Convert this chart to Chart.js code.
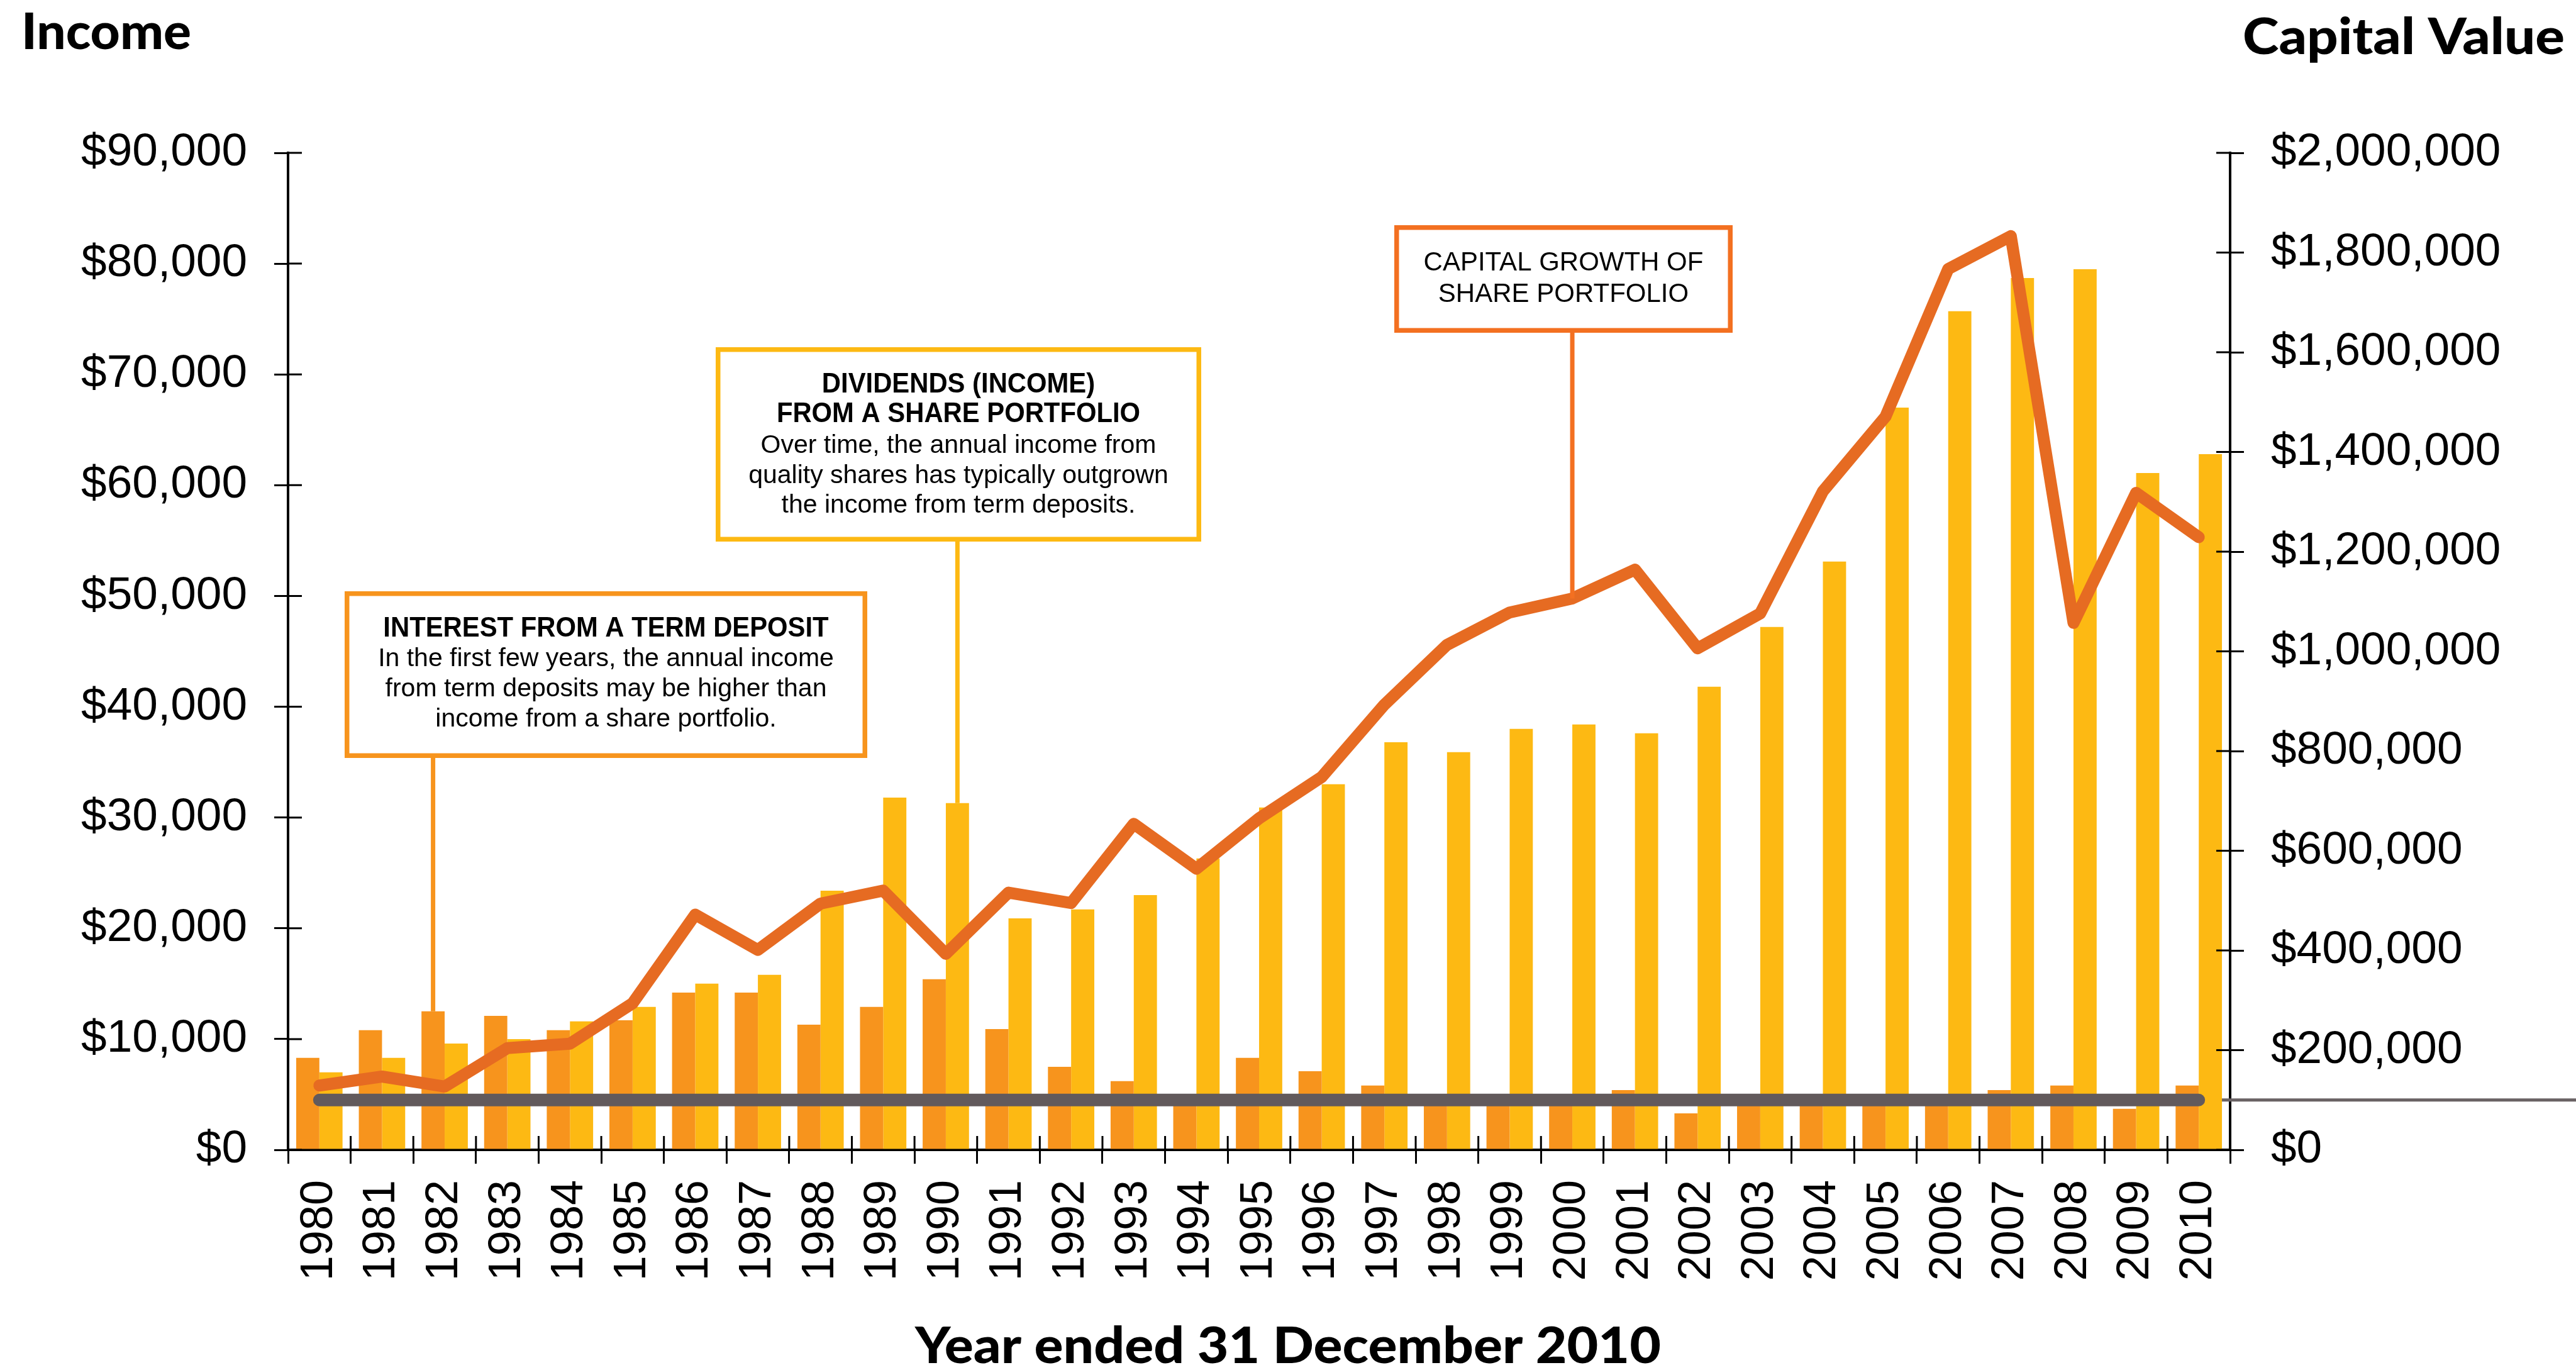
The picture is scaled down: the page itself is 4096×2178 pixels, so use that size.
<!DOCTYPE html>
<html>
<head>
<meta charset="utf-8">
<script src="https://cdn.jsdelivr.net/npm/chart.js@4.4.0/dist/chart.umd.min.js"></script>
<style>
  html, body { margin: 0; padding: 0; background: #fff; }
  #wrap { width: 4096px; height: 2178px; position: relative; }
</style>
</head>
<body>
<div id="wrap"><canvas id="incomeChart" width="4096" height="2178"></canvas></div>

<script>
// values
const years = ['1980', '1981', '1982', '1983', '1984', '1985', '1986', '1987', '1988', '1989',
  '1990', '1991', '1992', '1993', '1994', '1995', '1996', '1997', '1998', '1999',
  '2000', '2001', '2002', '2003', '2004', '2005', '2006', '2007', '2008', '2009', '2010'];

// annual interest from a term deposit (left axis)
const termDepositInterest = [8300, 10800, 12500, 12100, 10800, 11700, 14200, 14200, 11300, 12900,
  15400, 10900, 7500, 6200, 4600, 8300, 7100, 5800, 4600, 4600,
  4600, 5400, 3300, 4600, 4600, 4600, 4600, 5400, 5800, 3700, 5800];

// annual dividends from a share portfolio (left axis)
const shareDividends = [7000, 8300, 9600, 10000, 11600, 12900, 15000, 15800, 23400, 31800,
  31300, 20900, 21700, 23000, 26300, 30900, 33000, 36800, 35900, 38000,
  38400, 37600, 41800, 47200, 53100, 67000, 75700, 78700, 79500, 61100, 62800];

// capital value of the share portfolio (right axis)
const shareCapitalValue = [129000, 147000, 127000, 204000, 213000, 294000, 472000, 401000, 494000, 520000,
  393000, 516000, 495000, 654000, 564000, 665000, 748000, 893000, 1013000, 1078000,
  1106000, 1164000, 1006000, 1076000, 1321000, 1471000, 1767000, 1833000, 1057000, 1318000, 1229000];

// capital value of the term deposit (right axis)
const termDepositCapital = [100000, 100000, 100000, 100000, 100000, 100000, 100000, 100000, 100000, 100000,
  100000, 100000, 100000, 100000, 100000, 100000, 100000, 100000, 100000, 100000,
  100000, 100000, 100000, 100000, 100000, 100000, 100000, 100000, 100000, 100000, 100000];

const incomeTicks = [0, 10000, 20000, 30000, 40000, 50000, 60000, 70000, 80000, 90000];
const capitalTicks = [0, 200000, 400000, 600000, 800000, 1000000, 1200000, 1400000, 1600000, 1800000, 2000000];

const leftTitle = 'Income';
const rightTitle = 'Capital Value';
const bottomTitle = 'Year ended 31 December 2010';

const termDepositNote = {
  heading: ['INTEREST FROM A TERM DEPOSIT'],
  body: ['In the first few years, the annual income', 'from term deposits may be higher than', 'income from a share portfolio.']
};
const dividendNote = {
  heading: ['DIVIDENDS (INCOME)', 'FROM A SHARE PORTFOLIO'],
  body: ['Over time, the annual income from', 'quality shares has typically outgrown', 'the income from term deposits.']
};
const capitalNote = {
  heading: [],
  body: ['CAPITAL GROWTH OF', 'SHARE PORTFOLIO']
};

const orangeBar = '#F7941D';
const yellowBar = '#FDB913';
const capitalOrange = '#E66B22';
const boxOrange = '#F37021';
const greyLine = '#625A5C';

const tickFont = "'Liberation Sans', Arial, Helvetica, sans-serif";
const headFont = "Lato, 'Liberation Sans', sans-serif";

const dollars = v => '$' + Number(v).toLocaleString('en-US');

// tick stubs inside the plot, the axes cross their ticks
const innerTicks = {
  id: 'innerTicks',
  afterDraw(chart) {
    const { ctx, chartArea: a, scales: { x, y, y2 } } = chart;
    ctx.save();
    ctx.strokeStyle = '#000';
    ctx.lineWidth = 3;
    ctx.beginPath();
    y.ticks.forEach((t, i) => {
      const py = y.getPixelForTick(i);
      ctx.moveTo(a.left, py); ctx.lineTo(a.left + 22, py);
    });
    y2.ticks.forEach((t, i) => {
      const py = y2.getPixelForTick(i);
      ctx.moveTo(a.right - 22, py); ctx.lineTo(a.right, py);
    });
    for (let i = 0; i <= years.length; i++) {
      const px = x.getPixelForValue(i - 0.5);
      ctx.moveTo(px, a.bottom - 22); ctx.lineTo(px, a.bottom);
    }
    ctx.stroke();
    ctx.restore();
  }
};

// the term deposit capital line runs on past the right axis
const greyTail = {
  id: 'greyTail',
  beforeDatasetsDraw(chart) {
    const { ctx, width } = chart;
    const pts = chart.getDatasetMeta(1).data;
    const last = pts[pts.length - 1];
    ctx.save();
    ctx.strokeStyle = '#6A6264';
    ctx.lineWidth = 5;
    ctx.beginPath();
    ctx.moveTo(last.x, last.y);
    ctx.lineTo(width, last.y);
    ctx.stroke();
    ctx.restore();
  }
};

const callouts = {
  id: 'callouts',
  afterDraw(chart) {
    const { ctx } = chart;
    const boxes = [
      { note: termDepositNote, color: orangeBar, ds: 2, idx: 2, x: 548, y: 940, w: 831, h: 265,
        baselines: [1012, 1059, 1107, 1155], headSize: 44, bodySize: 41 },
      { note: dividendNote, color: yellowBar, ds: 3, idx: 10, x: 1138, y: 552, w: 772, h: 309,
        baselines: [624, 671, 720, 768, 815], headSize: 44, bodySize: 41 },
      { note: capitalNote, color: boxOrange, ds: 0, idx: 20, x: 2217, y: 358, w: 538, h: 171,
        baselines: [430, 480], headSize: 42, bodySize: 42 }
    ];
    ctx.save();
    boxes.forEach(b => {
      const el = chart.getDatasetMeta(b.ds).data[b.idx];
      ctx.strokeStyle = b.color;
      ctx.lineWidth = 7;
      ctx.beginPath();
      ctx.moveTo(el.x, b.y + b.h);
      ctx.lineTo(el.x, el.y);
      ctx.stroke();

      ctx.fillStyle = '#fff';
      ctx.fillRect(b.x, b.y, b.w, b.h);
      ctx.lineWidth = 7.5;
      ctx.strokeRect(b.x + 3.75, b.y + 3.75, b.w - 7.5, b.h - 7.5);

      const cx = b.x + b.w / 2;
      ctx.fillStyle = '#000';
      ctx.textAlign = 'center';
      ctx.textBaseline = 'alphabetic';
      let k = 0;
      b.note.heading.forEach(line => {
        ctx.font = `bold ${b.headSize}px ${tickFont}`;
        const w = ctx.measureText(line).width;
        ctx.fillText(line, cx, b.baselines[k++], w * 0.95);
      });
      b.note.body.forEach(line => {
        ctx.font = `${b.bodySize}px ${tickFont}`;
        ctx.fillText(line, cx, b.baselines[k++]);
      });
    });
    ctx.restore();
  }
};

// heavy headings, stretched to the width they have in the original
function fitText(ctx, text, x, y, align, target) {
  const w = ctx.measureText(text).width;
  ctx.save();
  ctx.translate(x, y);
  ctx.scale(target / w, 1);
  ctx.textAlign = align;
  ctx.fillText(text, 0, 0);
  ctx.restore();
}

const headings = {
  id: 'headings',
  afterDraw(chart) {
    const { ctx } = chart;
    ctx.save();
    ctx.fillStyle = '#000';
    ctx.textBaseline = 'alphabetic';
    ctx.font = `900 80px ${headFont}`;
    fitText(ctx, leftTitle, 34, 78, 'left', 270);
    fitText(ctx, rightTitle, 4078, 86, 'right', 512);
    fitText(ctx, bottomTitle, 2048, 2167, 'center', 1186);
    ctx.restore();
  }
};

const yAxisBase = (ticks, pos, width) => ({
  position: pos,
  z: 1,
  min: ticks[0],
  max: ticks[ticks.length - 1],
  afterBuildTicks: scale => { scale.ticks = ticks.map(v => ({ value: v })); },
  afterFit: scale => { scale.width = width; },
  border: { display: true, color: '#000', width: 4 },
  grid: { drawOnChartArea: false, drawTicks: true, tickLength: 22, color: '#000', lineWidth: 3 },
  ticks: {
    padding: 43,
    color: '#000',
    font: { family: tickFont, size: 73 },
    callback: v => dollars(v)
  }
});

new Chart(document.getElementById('incomeChart'), {
  type: 'bar',
  data: {
    labels: years,
    datasets: [
      {
        type: 'line', label: 'Capital growth of share portfolio', data: shareCapitalValue, yAxisID: 'y2',
        borderColor: capitalOrange, borderWidth: 19, borderCapStyle: 'round', borderJoinStyle: 'round',
        pointRadius: 0, tension: 0, fill: false, order: 0
      },
      {
        type: 'line', label: 'Term deposit capital', data: termDepositCapital, yAxisID: 'y2',
        borderColor: greyLine, borderWidth: 20, borderCapStyle: 'round', borderJoinStyle: 'round',
        pointRadius: 0, tension: 0, fill: false, order: 1
      },
      {
        label: 'Interest from a term deposit', data: termDepositInterest, yAxisID: 'y',
        backgroundColor: orangeBar, borderWidth: 0, order: 2,
        categoryPercentage: 0.74, barPercentage: 1.0
      },
      {
        label: 'Dividends from a share portfolio', data: shareDividends, yAxisID: 'y',
        backgroundColor: yellowBar, borderWidth: 0, order: 3,
        categoryPercentage: 0.74, barPercentage: 1.0
      }
    ]
  },
  options: {
    responsive: false,
    devicePixelRatio: 1,
    animation: false,
    layout: { padding: { top: 243, left: 0, right: 0, bottom: 0 } },
    scales: {
      x: {
        z: 1,
        offset: true,
        afterFit: scale => { scale.height = 350; },
        border: { display: true, color: '#000', width: 4 },
        grid: { offset: true, drawOnChartArea: false, drawTicks: true, tickLength: 22, color: '#000', lineWidth: 3 },
        ticks: {
          autoSkip: false,
          minRotation: 90,
          maxRotation: 90,
          padding: 26,
          color: '#000',
          font: { family: tickFont, size: 72 }
        }
      },
      y: yAxisBase(incomeTicks, 'left', 458),
      y2: yAxisBase(capitalTicks, 'right', 550)
    },
    plugins: {
      legend: { display: false },
      tooltip: { enabled: false }
    }
  },
  plugins: [greyTail, innerTicks, callouts, headings]
});
</script>
</body>
</html>
